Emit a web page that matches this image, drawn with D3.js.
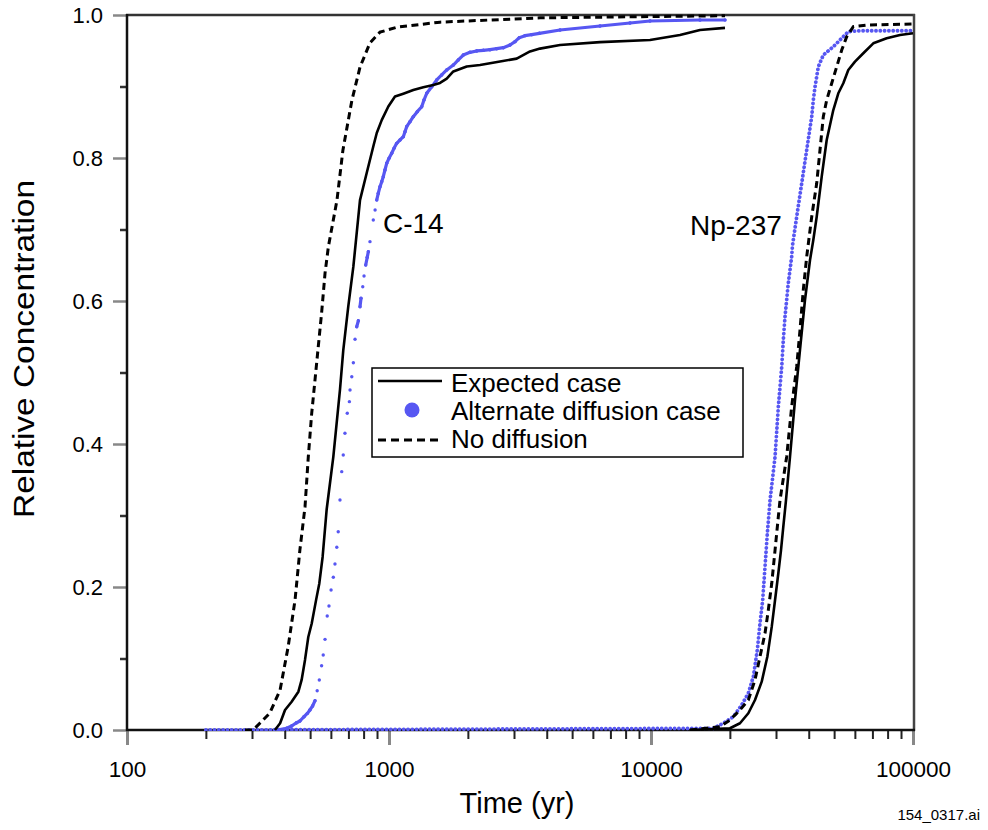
<!DOCTYPE html>
<html>
<head>
<meta charset="utf-8">
<script src="https://cdn.jsdelivr.net/npm/d3@7"></script>
<style>
  html, body { margin: 0; padding: 0; background: #fff; }
  svg { display: block; font-family: "Liberation Sans", Arial, Helvetica, sans-serif; }
</style>
</head>
<body>
<svg id="chart" width="988" height="830"></svg>
<script>
// ---------------- data (time in years, relative concentration) ----------------
const xMajorTicks = [100, 1000, 10000, 100000];
const yMajorTicks = [0, 0.2, 0.4, 0.6, 0.8, 1.0];
const yMinorTicks = [0.1, 0.3, 0.5, 0.7, 0.9];
const legendLabels = ["Expected case", "Alternate diffusion case", "No diffusion"];
const curveLabels = ["C-14", "Np-237"];

const c14NoDiffusion = [[282,0],[303,0],[322,0.0098],[351,0.0238],[384,0.056],[412,0.116],[438,0.182],[457,0.252],[478,0.312],[492,0.382],[507,0.443],[522,0.490],[537,0.536],[553,0.583],[570,0.639],[587,0.676],[633,0.741],[667,0.811],[722,0.881],[775,0.927],[846,0.961],[924,0.976],[1073,0.983],[1566,0.990],[3770,0.996],[19160,0.999]];

const c14Expected = [[367,0],[384,0.0094],[401,0.028],[425,0.0396],[451,0.0536],[464,0.070],[478,0.098],[492,0.130],[507,0.149],[527,0.182],[542,0.205],[558,0.242],[578,0.308],[613,0.382],[650,0.476],[669,0.531],[699,0.592],[731,0.648],[775,0.741],[822,0.779],[871,0.816],[898,0.835],[938,0.853],[994,0.872],[1054,0.886],[1134,0.890],[1238,0.895],[1352,0.899],[1476,0.902],[1566,0.905],[1661,0.911],[1760,0.921],[1980,0.928],[2225,0.930],[2653,0.935],[3072,0.939],[3453,0.949],[3770,0.953],[4496,0.958],[6388,0.962],[9913,0.965],[12900,0.972],[15380,0.979],[19160,0.982]];

const c14Alternate = [[374,0],[407,0.0024],[425,0.0056],[444,0.0102],[457,0.0126],[474,0.0186],[488,0.0233],[499,0.028],[511,0.0336],[522,0.041],[532,0.055],[542,0.0699],[553,0.0899],[561,0.1049],[570,0.1268],[581,0.1594],[590,0.1734],[601,0.1958],[613,0.2136],[622,0.2322],[632,0.2555],[640,0.2773],[650,0.3217],[660,0.3613],[669,0.3846],[679,0.415],[693,0.443],[706,0.4592],[710,0.4755],[721,0.4941],[731,0.5137],[742,0.5464],[753,0.564],[764,0.5724],[775,0.592],[782,0.6038],[794,0.62],[803,0.635],[815,0.6503],[826,0.6611],[834,0.669],[846,0.683],[871,0.7133],[885,0.7273],[898,0.7413],[910,0.7506],[924,0.7599],[938,0.7669],[951,0.7739],[965,0.7832],[980,0.7926],[1000,0.7995],[1024,0.8066],[1045,0.8135],[1070,0.8205],[1102,0.8252],[1134,0.8298],[1151,0.8368],[1168,0.8438],[1203,0.8508],[1238,0.8578],[1282,0.8648],[1333,0.8717],[1360,0.8811],[1393,0.8905],[1456,0.8997],[1521,0.9091],[1589,0.9161],[1661,0.9231],[1760,0.930],[1839,0.9371],[1921,0.944],[2038,0.9478],[2161,0.9497],[2291,0.9506],[2429,0.9515],[2577,0.9529],[2731,0.9543],[2896,0.958],[3026,0.9627],[3143,0.9683],[3304,0.9711],[3505,0.9725],[3748,0.9744],[4496,0.979],[6388,0.9846],[8316,0.9888],[9913,0.9916],[15380,0.993],[19160,0.993]];

const np237NoDiffusion = [[14090,0],[18340,0.0046],[20020,0.014],[21860,0.028],[23520,0.042],[24940,0.07],[26060,0.1025],[27240,0.1352],[28040,0.1678],[28900,0.2052],[29750,0.2517],[30620,0.2983],[31080,0.3217],[32950,0.3822],[34430,0.4522],[35980,0.5081],[37040,0.5594],[38130,0.6154],[39290,0.662],[41060,0.7179],[42900,0.7646],[44160,0.8112],[45460,0.8578],[46840,0.8811],[48950,0.9045],[51150,0.9277],[53450,0.951],[55840,0.9697],[59170,0.9837],[66570,0.986],[100000,0.9874]];

const np237Expected = [[14090,0],[20020,0.0024],[21860,0.0094],[23520,0.0234],[24940,0.042],[26460,0.0676],[27800,0.1025],[28900,0.1445],[29750,0.1818],[30620,0.2192],[31350,0.2517],[31990,0.2843],[32760,0.3217],[33930,0.3822],[35450,0.4615],[37040,0.5315],[38700,0.6014],[40450,0.6573],[41640,0.6853],[42900,0.7179],[44830,0.7739],[46840,0.8252],[49640,0.8671],[51870,0.8905],[54200,0.9045],[56630,0.9231],[60060,0.9347],[64610,0.9465],[70540,0.9604],[79350,0.9674],[89230,0.972],[100000,0.9744]];

const np237Alternate = [[200,0],[17290,0.0024],[18880,0.0094],[20610,0.0186],[22190,0.035],[23520,0.0513],[24580,0.0745],[25450,0.1119],[26060,0.1492],[26690,0.1818],[27240,0.2284],[27800,0.2751],[28470,0.3217],[29750,0.3822],[30620,0.4522],[31550,0.5081],[31990,0.5455],[32470,0.578],[33420,0.6248],[34430,0.662],[34680,0.678],[35980,0.7179],[37600,0.7646],[39290,0.8112],[41060,0.8578],[41640,0.8811],[42270,0.8997],[43510,0.9277],[45460,0.944],[49640,0.9557],[54200,0.9697],[56630,0.9767],[62770,0.978],[74820,0.978],[100000,0.978]];

// ---------------- layout ----------------
const BLUE = "#5757f2";
const FONT = '"Liberation Sans", Arial, Helvetica, sans-serif';
const svg = d3.select("#chart");
const x = d3.scaleLog().domain([100, 100000]).range([127, 913]);
const y = d3.scaleLinear().domain([0, 1]).range([730, 15]);

const xMinorTicks = [];
xMajorTicks.slice(0, -1).forEach(d => { for (let k = 2; k <= 9; k++) xMinorTicks.push(d * k); });

// clip for plot area
svg.append("defs").append("clipPath").attr("id", "plotClip")
  .append("rect").attr("x", 127).attr("y", 10).attr("width", 787).attr("height", 721);

// ---------------- axes ----------------
const axisX = svg.append("g").attr("transform", "translate(0,730)");
axisX.call(d3.axisBottom(x).tickValues(xMinorTicks).tickSize(9).tickFormat(""))
  .call(g => g.select(".domain").remove())
  .call(g => g.selectAll("line").attr("stroke", "#222").attr("stroke-width", 2));
const axisXMaj = svg.append("g").attr("transform", "translate(0,730)");
axisXMaj.call(d3.axisBottom(x).tickValues(xMajorTicks).tickSize(15).tickPadding(16).tickFormat(d => String(d)))
  .call(g => g.select(".domain").remove())
  .call(g => g.selectAll("line").attr("stroke", "#888").attr("stroke-width", 3))
  .call(g => g.selectAll("text").attr("font-size", 22.5).attr("font-family", FONT).attr("fill", "#000"));

const axisY = svg.append("g").attr("transform", "translate(127,0)");
axisY.call(d3.axisLeft(y).tickValues(yMinorTicks).tickSize(7).tickFormat(""))
  .call(g => g.select(".domain").remove())
  .call(g => g.selectAll("line").attr("stroke", "#333").attr("stroke-width", 2.5));
const axisYMaj = svg.append("g").attr("transform", "translate(127,0)");
axisYMaj.call(d3.axisLeft(y).tickValues(yMajorTicks).tickSize(14).tickPadding(10).tickFormat(d3.format(".1f")))
  .call(g => g.select(".domain").remove())
  .call(g => g.selectAll("line").attr("stroke", "#888").attr("stroke-width", 2.5))
  .call(g => g.selectAll("text").attr("font-size", 22).attr("font-family", FONT).attr("fill", "#000"));

// frame
const frame = svg.append("g").attr("fill", "none");
frame.append("line").attr("x1", 126).attr("x2", 915).attr("y1", y(1)).attr("y2", y(1)).attr("stroke", "#333").attr("stroke-width", 2.5);
frame.append("line").attr("x1", x(100000) + 1).attr("x2", x(100000) + 1).attr("y1", 14).attr("y2", 731).attr("stroke", "#444").attr("stroke-width", 2.5);
frame.append("line").attr("x1", x(100)).attr("x2", x(100)).attr("y1", 14).attr("y2", 731).attr("stroke", "#111").attr("stroke-width", 2.5);
frame.append("line").attr("x1", 126).attr("x2", 915).attr("y1", y(0)).attr("y2", y(0)).attr("stroke", "#111").attr("stroke-width", 2.5);

// ---------------- series ----------------
const plot = svg.append("g").attr("clip-path", "url(#plotClip)");
const line = d3.line().x(d => x(d[0])).y(d => y(d[1]));

// Alternate case: Np-237 densely sampled points -> chain of dots
plot.append("path").datum(np237Alternate).attr("d", line)
  .attr("fill", "none").attr("stroke", BLUE).attr("stroke-width", 3.8)
  .attr("stroke-linecap", "round").attr("stroke-dasharray", "0.1 4.2");

// Alternate case: C-14 points (adjacent close points merge)
const c14AltG = plot.append("g");
const segs = [];
for (let i = 1; i < c14Alternate.length; i++) {
  const a = c14Alternate[i - 1], b = c14Alternate[i];
  const dx = x(b[0]) - x(a[0]), dy = y(b[1]) - y(a[1]);
  if (Math.hypot(dx, dy) < 9 || Math.abs(dy) < 5) segs.push([a, b]);
}
c14AltG.selectAll("path.seg").data(segs).join("path").attr("class", "seg")
  .attr("d", line).attr("fill", "none").attr("stroke", BLUE)
  .attr("stroke-width", 3.2).attr("stroke-linecap", "round");
c14AltG.selectAll("circle").data(c14Alternate).join("circle")
  .attr("cx", d => x(d[0])).attr("cy", d => y(d[1])).attr("r", 1.7).attr("fill", BLUE);

// Expected case (solid)
[c14Expected, np237Expected].forEach(s => {
  plot.append("path").datum(s).attr("d", line).attr("fill", "none")
    .attr("stroke", "#000").attr("stroke-width", 2.6).attr("stroke-linejoin", "round");
});
// No diffusion (dashed)
[c14NoDiffusion, np237NoDiffusion].forEach(s => {
  plot.append("path").datum(s).attr("d", line).attr("fill", "none")
    .attr("stroke", "#000").attr("stroke-width", 3).attr("stroke-dasharray", "7 4.5");
});

// ---------------- labels ----------------
svg.append("text").attr("x", 383).attr("y", 233).attr("font-size", 28).attr("font-family", FONT).text(curveLabels[0]);
svg.append("text").attr("x", 690).attr("y", 235).attr("font-size", 28).attr("font-family", FONT).text(curveLabels[1]);

// legend
const lg = svg.append("g");
lg.append("rect").attr("x", 372).attr("y", 368).attr("width", 371).attr("height", 89)
  .attr("fill", "#fff").attr("stroke", "#000").attr("stroke-width", 1.5);
const rowY = [381, 410, 440];
lg.append("line").attr("x1", 378).attr("x2", 442).attr("y1", rowY[0]).attr("y2", rowY[0])
  .attr("stroke", "#000").attr("stroke-width", 2.6);
lg.append("circle").attr("cx", 412).attr("cy", rowY[1]).attr("r", 7.5).attr("fill", BLUE);
lg.append("line").attr("x1", 378).attr("x2", 442).attr("y1", rowY[2]).attr("y2", rowY[2])
  .attr("stroke", "#000").attr("stroke-width", 3).attr("stroke-dasharray", "8 5");
lg.selectAll("text.lt").data(legendLabels).join("text").attr("class", "lt")
  .attr("x", 451).attr("y", (d, i) => [392, 420, 448][i])
  .attr("font-size", 26).attr("font-family", FONT).text(d => d);

// axis titles
svg.append("text").attr("x", 517).attr("y", 813).attr("text-anchor", "middle")
  .attr("font-size", 29).attr("font-family", FONT).text("Time (yr)");
svg.append("text").attr("transform", "translate(34,349) rotate(-90)").attr("text-anchor", "middle")
  .attr("font-size", 30).attr("font-family", FONT)
  .attr("textLength", 338).attr("lengthAdjust", "spacingAndGlyphs").text("Relative Concentration");

svg.append("text").attr("x", 980).attr("y", 820).attr("text-anchor", "end")
  .attr("font-size", 15).attr("font-family", FONT).text("154_0317.ai");
</script>
</body>
</html>
